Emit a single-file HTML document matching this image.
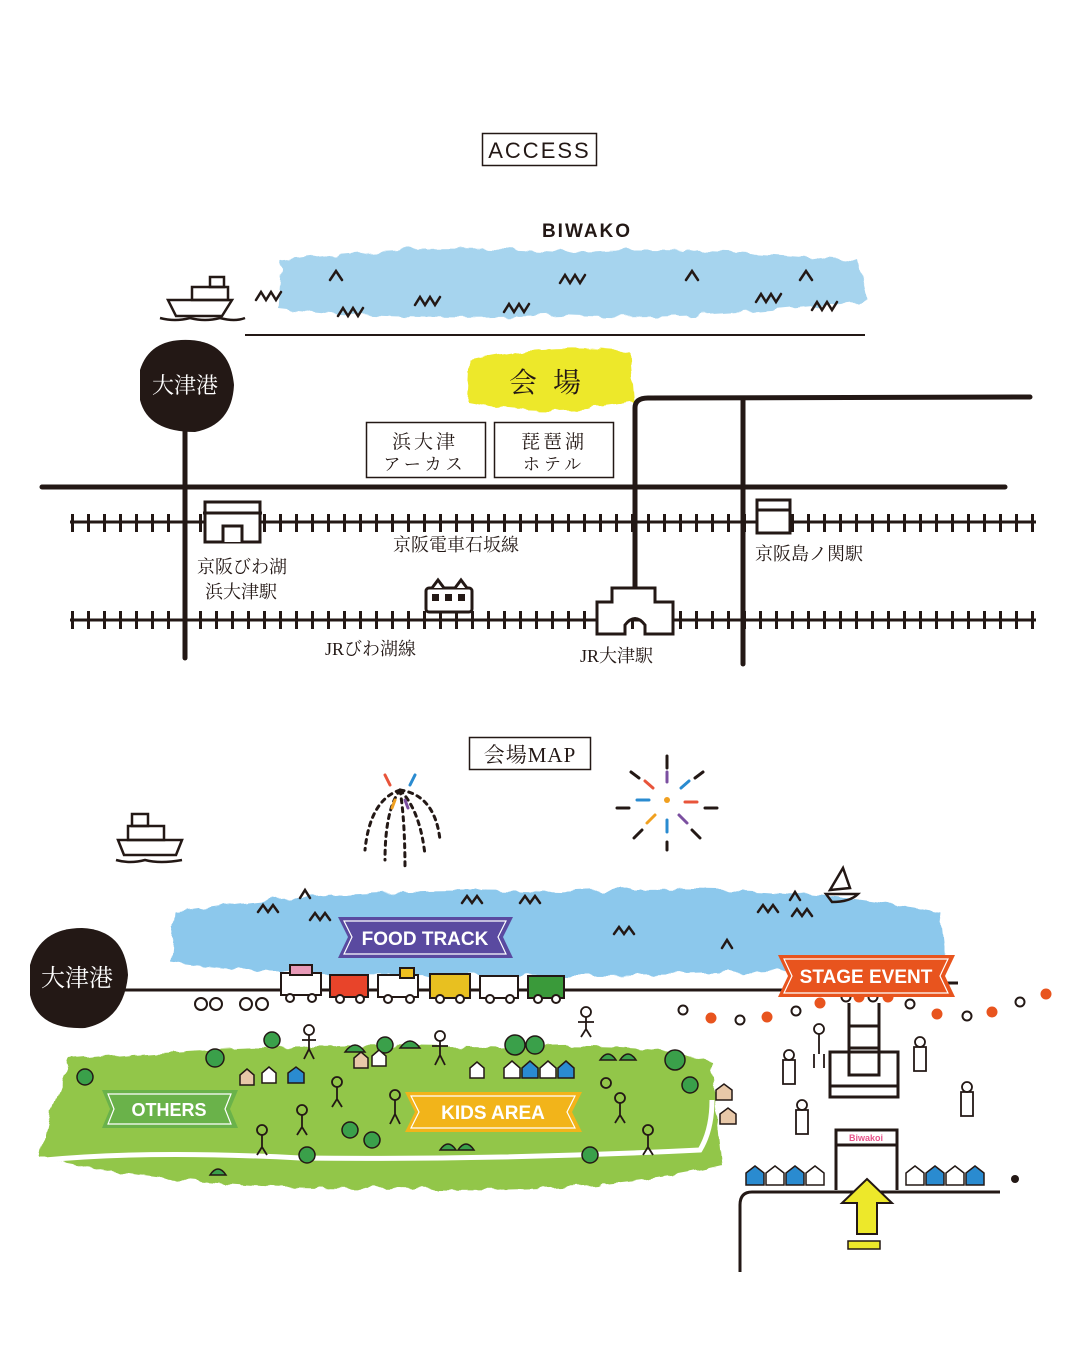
<!DOCTYPE html>
<html><head><meta charset="utf-8"><style>
html,body{margin:0;padding:0;background:#fff;}
svg{display:block;}
text{font-family:"Liberation Sans","Noto Sans CJK JP",sans-serif;}
.jp{font-family:"Liberation Serif","Noto Serif CJK SC","Noto Sans CJK JP",serif;}
</style></head><body>
<svg width="1080" height="1350" viewBox="0 0 1080 1350" xmlns="http://www.w3.org/2000/svg">
<defs>
<pattern id="ticks" x="0" y="0" width="16" height="20" patternUnits="userSpaceOnUse">
<rect x="7" y="0" width="3" height="20" fill="#231815"/>
</pattern>
<filter id="rough"><feTurbulence type="fractalNoise" baseFrequency="0.06" numOctaves="2" result="n"/><feDisplacementMap in="SourceGraphic" in2="n" scale="10"/></filter>
</defs>

<!-- ACCESS -->
<rect x="482.5" y="133.5" width="114" height="32" fill="none" stroke="#231815" stroke-width="1.5"/>
<text x="539.5" y="158" font-size="22" text-anchor="middle" fill="#231815" letter-spacing="2">ACCESS</text>

<text x="587" y="237" font-size="19" font-weight="bold" text-anchor="middle" fill="#231815" letter-spacing="2">BIWAKO</text>
<path d="M282 262 Q400 242 560 252 Q700 245 860 262 L868 300 Q700 322 560 315 Q400 322 278 308 Z" fill="#a6d4ee" filter="url(#rough)"/>
<g fill="none" stroke="#231815" stroke-width="2.5" stroke-linecap="round">
<path d="M256 300 l5 -8 l5 8 l5 -8 l5 8 l5 -8"/>
<path d="M330 280 l6 -9 l6 9"/><path d="M338 316 l5 -8 l5 8 l5 -8 l5 8 l5 -8"/>
<path d="M415 305 l5 -8 l5 8 l5 -8 l5 8 l5 -8"/><path d="M504 312 l5 -8 l5 8 l5 -8 l5 8 l5 -8"/>
<path d="M560 283 l5 -8 l5 8 l5 -8 l5 8 l5 -8"/><path d="M686 280 l6 -9 l6 9"/>
<path d="M756 302 l5 -8 l5 8 l5 -8 l5 8 l5 -8"/><path d="M800 280 l6 -9 l6 9"/><path d="M812 310 l5 -8 l5 8 l5 -8 l5 8 l5 -8"/>
</g>
<!-- ship -->
<g fill="none" stroke="#231815" stroke-width="2.5">
<path d="M168 300 L232 300 L222 316 L176 316 Z"/><rect x="192" y="287" width="36" height="13"/><rect x="210" y="277" width="14" height="10"/>
<path d="M160 318 Q175 322 190 318 Q205 322 220 318 Q235 322 245 318"/>
</g>
<line x1="245" y1="335" x2="865" y2="335" stroke="#231815" stroke-width="2"/>

<!-- venue -->
<path d="M470 360 Q550 342 630 352 L634 402 Q550 418 468 402 Z" fill="#ede82a" filter="url(#rough)"/>
<text x="553" y="392" class="jp" font-size="28" text-anchor="middle" fill="#231815" letter-spacing="16">会場</text>

<!-- roads -->
<g stroke="#231815" stroke-width="5" fill="none" stroke-linecap="round">
<line x1="42" y1="487" x2="1005" y2="487"/>
<line x1="185" y1="410" x2="185" y2="658"/>
<path d="M635 592 L635 408 Q635 398 648 398 L1030 397"/>
<line x1="743" y1="400" x2="743" y2="664"/>
</g>
<!-- 大津港 blob -->
<path d="M140 370 Q150 338 190 340 Q230 342 234 385 Q232 425 195 432 Q148 432 140 400 Z" fill="#231815"/>
<text x="185" y="393" class="jp" font-size="22" fill="#fff" text-anchor="middle">大津港</text>

<!-- boxes -->
<rect x="366.5" y="422.5" width="119" height="55" fill="#fff" stroke="#231815" stroke-width="1.5"/>
<rect x="494.5" y="422.5" width="119" height="55" fill="#fff" stroke="#231815" stroke-width="1.5"/>
<text x="425" y="448" class="jp" font-size="19" text-anchor="middle" fill="#231815" letter-spacing="3">浜大津</text>
<text x="425" y="470" class="jp" font-size="17" text-anchor="middle" fill="#231815" letter-spacing="4">アーカス</text>
<text x="554" y="448" class="jp" font-size="19" text-anchor="middle" fill="#231815" letter-spacing="3">琵琶湖</text>
<text x="554" y="470" class="jp" font-size="17" text-anchor="middle" fill="#231815" letter-spacing="4">ホテル</text>

<!-- rails -->
<rect x="70" y="514" width="966" height="18" fill="url(#ticks)"/>
<line x1="70" y1="522" x2="1036" y2="522" stroke="#231815" stroke-width="3"/>
<rect x="70" y="611" width="966" height="18" fill="url(#ticks)"/>
<line x1="70" y1="620" x2="1036" y2="620" stroke="#231815" stroke-width="3"/>
<!-- stations -->
<g fill="#fff" stroke="#231815" stroke-width="3">
<rect x="205" y="502" width="55" height="40"/><path d="M223 542 V526 H242 V542"/>
<line x1="203" y1="513" x2="262" y2="513"/>
<rect x="757" y="500" width="33" height="33"/><line x1="757" y1="510" x2="790" y2="510"/>
<path d="M597 602 L612 602 L612 588 L655 588 L655 602 L673 602 L673 634 L645 634 L645 625 Q635 612 625 625 L625 634 L597 634 Z"/>
<rect x="426" y="588" width="46" height="24" rx="3"/><path d="M432 588 l6 -8 l6 8 M455 588 l6 -8 l6 8"/>
</g>
<g fill="#231815"><rect x="432" y="594" width="7" height="7"/><rect x="445" y="594" width="7" height="7"/><rect x="458" y="594" width="7" height="7"/></g>
<g class="jp" font-size="18" fill="#231815">
<text x="197" y="573" class="jp">京阪びわ湖</text>
<text x="205" y="598" class="jp">浜大津駅</text>
<text x="393" y="551" class="jp">京阪電車石坂線</text>
<text x="755" y="560" class="jp">京阪島ノ関駅</text>
<text x="325" y="655" class="jp">JRびわ湖線</text>
<text x="580" y="662" class="jp">JR大津駅</text>
</g>

<!-- 会場MAP -->
<rect x="469.5" y="737.5" width="121" height="32" fill="none" stroke="#231815" stroke-width="1.5"/>
<text x="530" y="762" class="jp" font-size="21" text-anchor="middle" fill="#231815" letter-spacing="1">会場MAP</text>

<!-- fireworks -->
<g stroke-width="3" stroke-linecap="round" fill="none">
<g stroke="#231815" stroke-dasharray="4 5">
<path d="M400 790 Q370 800 365 850"/><path d="M400 790 Q385 810 385 860"/><path d="M400 790 Q405 820 405 870"/><path d="M400 790 Q420 810 425 855"/><path d="M400 790 Q435 795 440 840"/>
</g>
<path d="M390 785 l-5 -10" stroke="#e8543a"/><path d="M410 785 l5 -10" stroke="#2a8bd0"/><path d="M395 800 l-3 8" stroke="#f0a020"/><path d="M405 800 l3 8" stroke="#7b4fa0"/>
<g transform="translate(667,800)">
<path d="M0 -18 v-10" stroke="#7b4fa0"/><path d="M14 -12 l8 -7" stroke="#2a8bd0"/><path d="M18 2 h12" stroke="#e8543a"/><path d="M12 15 l8 8" stroke="#7b4fa0"/>
<path d="M0 20 v12" stroke="#2a8bd0"/><path d="M-12 15 l-8 8" stroke="#f0a020"/><path d="M-18 0 h-12" stroke="#2a8bd0"/><path d="M-14 -12 l-8 -7" stroke="#e8543a"/>
<path d="M0 -32 v-12 M28 -22 l8 -6 M38 8 h12 M25 30 l8 8 M0 42 v8 M-25 30 l-8 8 M-38 8 h-12 M-28 -22 l-8 -6" stroke="#231815"/>
<circle r="3" fill="#f0a020" stroke="none"/>
</g>
</g>
<!-- ship 2 -->
<g fill="none" stroke="#231815" stroke-width="2.5">
<path d="M118 840 L182 840 L176 855 L124 855 Z"/><rect x="128" y="826" width="36" height="14"/><rect x="132" y="814" width="16" height="12"/>
<path d="M116 860 Q130 864 145 860 Q160 864 182 860"/>
</g>

<!-- lake 2 -->
<path d="M175 912 Q350 885 560 892 Q760 880 940 912 L945 960 Q700 980 500 975 Q300 980 170 962 Z" fill="#8cc8ec" filter="url(#rough)"/>
<g fill="none" stroke="#231815" stroke-width="2.5" stroke-linecap="round">
<path d="M258 912 l5 -7 l5 7 l5 -7 l5 7"/><path d="M300 898 l5 -8 l5 8"/><path d="M310 920 l5 -7 l5 7 l5 -7 l5 7"/>
<path d="M462 903 l5 -7 l5 7 l5 -7 l5 7"/><path d="M520 903 l5 -7 l5 7 l5 -7 l5 7"/><path d="M614 934 l5 -7 l5 7 l5 -7 l5 7"/>
<path d="M722 948 l5 -8 l5 8"/><path d="M758 912 l5 -7 l5 7 l5 -7 l5 7"/><path d="M790 900 l5 -8 l5 8"/><path d="M792 916 l5 -7 l5 7 l5 -7 l5 7"/>
<path d="M830 890 L843 868 L850 888 Z"/><path d="M826 894 H858 Q850 902 832 902 Z"/>
</g>
<line x1="30" y1="990" x2="800" y2="990" stroke="#231815" stroke-width="3"/>
<line x1="945" y1="983" x2="958" y2="983" stroke="#231815" stroke-width="3"/>
<!-- 大津港 2 -->
<path d="M30 965 Q40 928 82 928 Q125 930 128 975 Q124 1020 85 1028 Q38 1030 30 995 Z" fill="#231815"/>
<text x="77" y="986" class="jp" font-size="24" fill="#fff" text-anchor="middle">大津港</text>

<!-- food trucks -->
<g stroke="#231815" stroke-width="2">
<rect x="281" y="973" width="40" height="22" fill="#fff"/><rect x="290" y="965" width="22" height="10" fill="#e89ab8"/>
<rect x="330" y="975" width="38" height="22" fill="#e8442a"/>
<rect x="378" y="975" width="40" height="22" fill="#fff"/><rect x="400" y="968" width="14" height="10" fill="#f0c020"/>
<rect x="430" y="974" width="40" height="24" fill="#e8c020"/>
<rect x="480" y="976" width="38" height="22" fill="#fff"/>
<rect x="528" y="976" width="36" height="22" fill="#3a9a3a"/>
</g>
<g fill="#fff" stroke="#231815" stroke-width="2">
<circle cx="290" cy="998" r="4"/><circle cx="312" cy="998" r="4"/><circle cx="340" cy="999" r="4"/><circle cx="360" cy="999" r="4"/>
<circle cx="388" cy="999" r="4"/><circle cx="410" cy="999" r="4"/><circle cx="440" cy="999" r="4"/><circle cx="460" cy="999" r="4"/>
<circle cx="490" cy="999" r="4"/><circle cx="510" cy="999" r="4"/><circle cx="538" cy="999" r="4"/><circle cx="556" cy="999" r="4"/>
<circle cx="201" cy="1004" r="6"/><circle cx="216" cy="1004" r="6"/><circle cx="246" cy="1004" r="6"/><circle cx="262" cy="1004" r="6"/>
</g>

<!-- FOOD TRACK banner -->
<path d="M338 917 H513 L503 937 L513 958 H338 L348 937 Z" fill="#5a4aa0"/>
<path d="M344 921 H506 L498 937 L506 954 H344 L352 937 Z" fill="none" stroke="#fff" stroke-width="1.2"/>
<text x="425" y="945" font-size="19" font-weight="bold" fill="#fff" text-anchor="middle">FOOD TRACK</text>

<!-- park -->
<path d="M70 1060 Q300 1040 500 1048 Q650 1040 712 1062 L722 1165 Q600 1195 400 1188 Q200 1192 40 1158 L48 1120 Z" fill="#92c64a" filter="url(#rough)"/>
<path d="M45 1160 Q150 1150 300 1158 Q500 1160 700 1150 Q712 1130 712 1100" fill="none" stroke="#fff" stroke-width="5"/>
<!-- trees -->
<g fill="#3aa04a" stroke="#231815" stroke-width="1.5">
<circle cx="272" cy="1040" r="8"/><circle cx="350" cy="1130" r="8"/><circle cx="372" cy="1140" r="8"/><circle cx="307" cy="1155" r="8"/>
<circle cx="85" cy="1077" r="8"/><circle cx="590" cy="1155" r="8"/><circle cx="675" cy="1060" r="10"/><circle cx="690" cy="1085" r="8"/>
<circle cx="215" cy="1058" r="9"/><circle cx="515" cy="1045" r="10"/><circle cx="535" cy="1045" r="9"/><circle cx="385" cy="1045" r="8"/>
<path d="M345 1052 q10 -14 20 0 z M400 1048 q10 -14 20 0 z M440 1150 q8 -12 16 0 z M458 1150 q8 -12 16 0 z M210 1175 q8 -12 16 0 z M600 1060 q8 -12 16 0 z M620 1060 q8 -12 16 0 z"/>
</g>
<!-- houses -->
<g stroke="#231815" stroke-width="1.5">
<path d="M240 1085 v-10 l7 -6 l7 6 v10 z" fill="#e8c8a8"/><path d="M262 1083 v-10 l7 -6 l7 6 v10 z" fill="#fff"/><path d="M288 1083 v-10 l8 -6 l8 6 v10 z" fill="#2a8bd0"/>
<path d="M354 1068 v-10 l7 -6 l7 6 v10 z" fill="#e8c8a8"/><path d="M372 1066 v-10 l7 -6 l7 6 v10 z" fill="#fff"/>
<path d="M470 1078 v-10 l7 -6 l7 6 v10 z" fill="#fff"/>
<path d="M504 1078 v-10 l8 -7 l8 7 v10 z" fill="#fff"/><path d="M522 1078 v-10 l8 -7 l8 7 v10 z" fill="#2a8bd0"/><path d="M540 1078 v-10 l8 -7 l8 7 v10 z" fill="#fff"/><path d="M558 1078 v-10 l8 -7 l8 7 v10 z" fill="#2a8bd0"/>
<path d="M716 1100 v-10 l8 -6 l8 6 v10 z" fill="#e8c8a8"/><path d="M720 1124 v-10 l8 -6 l8 6 v10 z" fill="#e8c8a8"/>
</g>
<!-- people (simplified) -->
<g fill="none" stroke="#231815" stroke-width="1.8">
<circle cx="309" cy="1030" r="5"/><path d="M309 1035 v14 l-5 10 M309 1049 l5 10 M302 1040 h14"/>
<circle cx="440" cy="1036" r="5"/><path d="M440 1041 v14 l-5 10 M440 1055 l5 10 M432 1046 h16"/>
<circle cx="586" cy="1012" r="5"/><path d="M586 1017 v12 l-5 8 M586 1029 l5 8 M578 1022 h16"/>
<circle cx="337" cy="1082" r="5"/><path d="M337 1087 v12 l-5 8 M337 1099 l5 8"/>
<circle cx="302" cy="1110" r="5"/><path d="M302 1115 v12 l-5 8 M302 1127 l5 8"/>
<circle cx="395" cy="1095" r="5"/><path d="M395 1100 v14 l-5 10 M395 1114 l5 10"/>
<circle cx="262" cy="1130" r="5"/><path d="M262 1135 v12 l-5 8 M262 1147 l5 8"/>
<circle cx="620" cy="1098" r="5"/><path d="M620 1103 v12 l-5 8 M620 1115 l5 8"/>
<circle cx="648" cy="1130" r="5"/><path d="M648 1135 v12 l-5 8 M648 1147 l5 8"/>
<circle cx="606" cy="1083" r="5"/>
<circle cx="819" cy="1029" r="5"/><path d="M819 1034 v20 M814 1054 v14 M824 1054 v14"/>
<circle cx="789" cy="1055" r="5"/><path d="M783 1060 h12 v24 h-12 z"/>
<circle cx="920" cy="1042" r="5"/><path d="M914 1047 h12 v24 h-12 z"/>
<circle cx="802" cy="1105" r="5"/><path d="M796 1110 h12 v24 h-12 z"/>
<circle cx="967" cy="1087" r="5"/><path d="M961 1092 h12 v24 h-12 z"/>
</g>

<!-- OTHERS banner -->
<path d="M102 1090 H238 L230 1109 L238 1128 H102 L110 1109 Z" fill="#6ab24a"/>
<path d="M108 1094 H231 L225 1109 L231 1124 H108 L114 1109 Z" fill="none" stroke="#fff" stroke-width="1.2"/>
<text x="169" y="1116" font-size="18" font-weight="bold" fill="#fff" text-anchor="middle">OTHERS</text>
<!-- KIDS AREA banner -->
<path d="M405 1092 H582 L572 1112 L582 1132 H405 L415 1112 Z" fill="#f2b41a"/>
<path d="M411 1096 H575 L567 1112 L575 1128 H411 L419 1112 Z" fill="none" stroke="#fff" stroke-width="1.2"/>
<text x="493" y="1119" font-size="19" font-weight="bold" fill="#fff" text-anchor="middle">KIDS AREA</text>

<!-- stage area -->
<g fill="#fff" stroke-width="2">
<circle cx="683" cy="1010" r="4.5" stroke="#231815"/><circle cx="711" cy="1018" r="4.5" fill="#e8541e" stroke="#e8541e"/>
<circle cx="740" cy="1020" r="4.5" stroke="#231815"/><circle cx="767" cy="1017" r="4.5" fill="#e8541e" stroke="#e8541e"/>
<circle cx="796" cy="1011" r="4.5" stroke="#231815"/><circle cx="820" cy="1003" r="4.5" fill="#e8541e" stroke="#e8541e"/>
<circle cx="846" cy="997" r="4.5" stroke="#231815"/><circle cx="859" cy="997" r="4.5" fill="#e8541e" stroke="#e8541e"/>
<circle cx="873" cy="997" r="4.5" stroke="#231815"/><circle cx="888" cy="997" r="4.5" fill="#e8541e" stroke="#e8541e"/>
<circle cx="910" cy="1004" r="4.5" stroke="#231815"/><circle cx="937" cy="1014" r="4.5" fill="#e8541e" stroke="#e8541e"/>
<circle cx="967" cy="1016" r="4.5" stroke="#231815"/><circle cx="992" cy="1012" r="4.5" fill="#e8541e" stroke="#e8541e"/>
<circle cx="1020" cy="1002" r="4.5" stroke="#231815"/><circle cx="1046" cy="994" r="4.5" fill="#e8541e" stroke="#e8541e"/>
</g>
<g fill="none" stroke="#231815" stroke-width="3">
<path d="M849 1003 V1075 H879 V1003 M849 1026 H879 M849 1048 H879"/>
<rect x="830" y="1052" width="68" height="45"/><line x1="830" y1="1086" x2="898" y2="1086"/>
<path d="M836 1190 V1130 H897 V1190 M836 1145 H897"/>
<path d="M740 1272 V1205 Q740 1192 752 1192 H1000"/>
</g>
<text x="866" y="1141" font-size="9" font-weight="bold" text-anchor="middle" fill="#e8548a">Biwakoi</text>
<circle cx="1015" cy="1179" r="4" fill="#231815"/>
<!-- tents -->
<g stroke="#231815" stroke-width="1.5">
<path d="M746 1185 v-12 l9 -7 l9 7 v12 z" fill="#2a8bd0"/><path d="M766 1185 v-12 l9 -7 l9 7 v12 z" fill="#fff"/>
<path d="M786 1185 v-12 l9 -7 l9 7 v12 z" fill="#2a8bd0"/><path d="M806 1185 v-12 l9 -7 l9 7 v12 z" fill="#fff"/>
<path d="M906 1185 v-12 l9 -7 l9 7 v12 z" fill="#fff"/><path d="M926 1185 v-12 l9 -7 l9 7 v12 z" fill="#2a8bd0"/>
<path d="M946 1185 v-12 l9 -7 l9 7 v12 z" fill="#fff"/><path d="M966 1185 v-12 l9 -7 l9 7 v12 z" fill="#2a8bd0"/>
</g>
<!-- arrow -->
<path d="M867 1179 L892 1203 L877 1203 L877 1234 L857 1234 L857 1203 L842 1203 Z" fill="#ede82a" stroke="#231815" stroke-width="2"/>
<rect x="848" y="1241" width="32" height="8" fill="#ede82a" stroke="#231815" stroke-width="1.5"/>

<!-- STAGE EVENT banner -->
<path d="M778 955 H955 L945 976 L955 997 H778 L788 976 Z" fill="#e8541e"/>
<path d="M784 959 H948 L940 976 L948 993 H784 L792 976 Z" fill="none" stroke="#fff" stroke-width="1.2"/>
<text x="866" y="983" font-size="19" font-weight="bold" fill="#fff" text-anchor="middle">STAGE EVENT</text>
</svg>
</body></html>
